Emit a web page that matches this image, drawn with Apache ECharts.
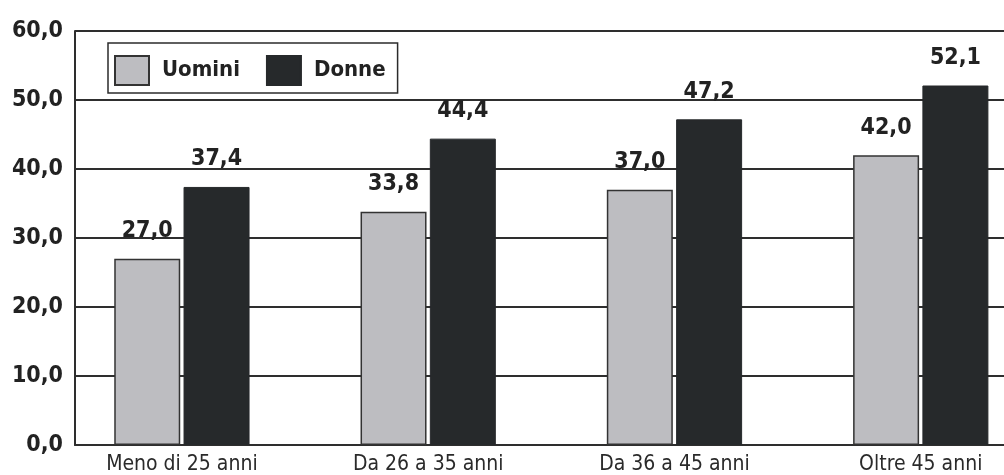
<!DOCTYPE html>
<html>
<head>
<meta charset="utf-8">
<script src="https://cdn.jsdelivr.net/npm/echarts@6/dist/echarts.min.js"></script>
<style>
  html, body { margin: 0; padding: 0; background: #ffffff; }
  #chart { width: 1004px; height: 475px; }
</style>
</head>
<body>
<div id="chart"></div>
<script>
// Fasce d'età e valori percentuali per sesso
const categories = ['Meno di 25 anni', 'Da 26 a 35 anni', 'Da 36 a 45 anni', 'Oltre 45 anni'];
const uomini = [27.0, 33.8, 37.0, 42.0];
const donne = [37.4, 44.4, 47.2, 52.1];
const yTicks = [0, 10, 20, 30, 40, 50, 60];

const FONT = '"DejaVu Sans Condensed", "Liberation Sans Narrow", "Liberation Sans", sans-serif';
const fmt = v => Number(v).toFixed(1).replace('.', ',');

// bar groups sit on a value axis so the first group can start close to the y axis
const xMin = -0.434;
const xMax = 3.338;

const chart = echarts.init(document.getElementById('chart'), null, { renderer: 'canvas' });

chart.setOption({
  animation: false,
  backgroundColor: '#ffffff',
  grid: { left: 75, top: 31, right: 0, height: 415, containLabel: false },
  legend: {
    left: 108, top: 43,
    padding: [12, 12, 7, 6],
    borderColor: '#2b2b2b', borderWidth: 1.5,
    itemWidth: 34, itemHeight: 29, itemGap: 26,
    icon: 'rect',
    textStyle: { fontFamily: FONT, fontSize: 22, fontWeight: 'bold', color: '#222', padding: [0, 0, 0, 8] },
    data: ['Uomini', 'Donne']
  },
  xAxis: {
    type: 'value',
    min: xMin, max: xMax,
    splitLine: { show: false },
    axisTick: { show: false },
    axisLine: { show: true, onZero: false, lineStyle: { color: '#2e2e2e', width: 2 } },
    axisLabel: {
      customValues: categories.map((c, i) => i),
      formatter: v => categories[Math.round(v)] || '',
      fontFamily: FONT, fontSize: 21, color: '#2a2a2a', margin: 9
    }
  },
  yAxis: {
    type: 'value',
    min: yTicks[0], max: yTicks[yTicks.length - 1], interval: 10,
    axisLine: { show: true, onZero: false, lineStyle: { color: '#2e2e2e', width: 2 } },
    axisTick: { show: false },
    splitLine: { show: true, lineStyle: { color: '#2e2e2e', width: 2 } },
    axisLabel: {
      formatter: fmt,
      fontFamily: FONT, fontSize: 23, fontWeight: 'bold', color: '#222', margin: 12
    }
  },
  series: [
    {
      name: 'Uomini', type: 'bar',
      data: uomini.map((v, i) => [i, v]),
      barWidth: 66, barGap: '5%',
      itemStyle: { color: '#bdbdc1', borderColor: '#333333', borderWidth: 1.5 },
      label: {
        show: true, position: 'top', distance: 16,
        formatter: p => fmt(p.value[1]),
        fontFamily: FONT, fontSize: 23, fontWeight: 'bold', color: '#222'
      }
    },
    {
      name: 'Donne', type: 'bar',
      data: donne.map((v, i) => [i, v]),
      barWidth: 66, barGap: '5%',
      itemStyle: { color: '#26292b', borderColor: '#26292b', borderWidth: 1 },
      label: {
        show: true, position: 'top', distance: 16,
        formatter: p => fmt(p.value[1]),
        fontFamily: FONT, fontSize: 23, fontWeight: 'bold', color: '#222'
      }
    }
  ]
});
</script>
</body>
</html>
